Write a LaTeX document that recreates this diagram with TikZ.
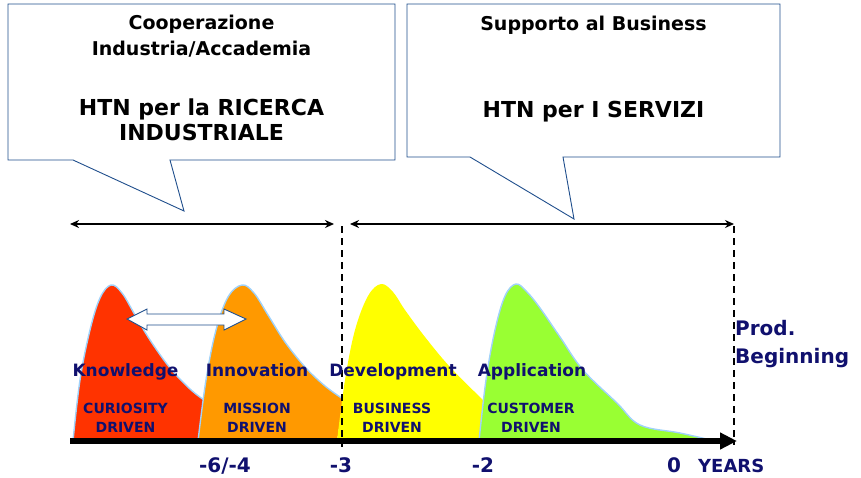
\documentclass[tikz,border=0pt]{standalone}
\usepackage{fontspec}
\setmainfont{DejaVu Sans}
\usetikzlibrary{arrows.meta}
\definecolor{navy}{RGB}{16,16,110}
\definecolor{boxblue}{RGB}{31,78,140}
\definecolor{cred}{RGB}{255,51,0}
\definecolor{corange}{RGB}{255,153,0}
\definecolor{cyellow}{RGB}{255,255,0}
\definecolor{cgreen}{RGB}{153,255,51}
\definecolor{edgeblue}{RGB}{160,210,250}
\tikzset{
  fs/.style={font=\bfseries\fontsize{#1}{#1}\selectfont},
  boxtxt/.style={fs=#1, text=black, anchor=base, inner sep=0pt},
  lab/.style={fs=17, text=navy, anchor=base, inner sep=0pt},
  sublab/.style={fs=14, text=navy, anchor=base, inner sep=0pt},
  num/.style={fs=20, text=navy, anchor=base, inner sep=0pt},
  callout/.style={draw=boxblue, line width=0.9pt, fill=white},
  pulse/.style={fill=#1, draw=edgeblue, line width=1.4pt},
  span/.style={line width=1.8pt, {Stealth[length=9pt,width=8pt]}-{Stealth[length=9pt,width=8pt]}},
  vdash/.style={line width=1.8pt, dash pattern=on 7pt off 5pt}
}
\begin{document}
\begin{tikzpicture}[x=1pt,y=-1pt]
\useasboundingbox (0,0) rectangle (861,477);

% callouts
\draw[callout] (8,4) -- (395,4) -- (395,160) -- (170,160) -- (184,211) -- (73,160) -- (8,160) -- cycle;
\draw[callout] (407,4) -- (780,4) -- (780,157) -- (563,157) -- (574,219) -- (470,157) -- (407,157) -- cycle;

\node[boxtxt=19] (coop) at (201.5,29) {Cooperazione};
\node[boxtxt=19] (indacc) at (201.5,55) {Industria/Accademia};
\node[boxtxt=22] (htn1) at (201.5,115) {HTN per la RICERCA};
\node[boxtxt=22] (indus) at (201.5,140) {INDUSTRIALE};
\node[boxtxt=19] (supp) at (593.5,30) {Supporto al Business};
\node[boxtxt=22] (htn2) at (593.5,117) {HTN per I SERVIZI};

% span arrows
\coordinate (s1a) at (70,224);
\coordinate (s1b) at (334,224);
\coordinate (s2a) at (350,224);
\coordinate (s2b) at (734,224);
\draw[span] (s1a) -- (s1b);
\draw[span] (s2a) -- (s2b);

% pulses
\fill[cred] plot[smooth, tension=0.6] coordinates {(73,441) (80,380) (90,330) (100,298) (111,285) (122,293) (135,315) (150,340) (170,368) (190,389) (204,400)} -- (198,441) -- cycle;
\draw[edgeblue, line width=1.4pt] plot[smooth, tension=0.6] coordinates {(73,441) (80,380) (90,330) (100,298) (111,285) (122,293) (135,315) (150,340) (170,368) (190,389) (204,400)};

\fill[corange] plot[smooth, tension=0.6] coordinates {(198,441) (206,380) (216,330) (228,297) (242,285) (254,293) (268,315) (285,342) (305,367) (325,386) (343,399)} -- (337,441) -- cycle;
\draw[edgeblue, line width=1.4pt] plot[smooth, tension=0.6] coordinates {(198,441) (206,380) (216,330) (228,297) (242,285) (254,293) (268,315) (285,342) (305,367) (325,386) (343,399)};

\fill[cyellow] plot[smooth, tension=0.6] coordinates {(337,441) (345,380) (355,330) (368,296) (381,284) (393,292) (405,310) (425,337) (450,367) (483,400)} -- (479,441) -- cycle;

\fill[cgreen] plot[smooth, tension=0.6] coordinates {(479,441) (486,380) (495,330) (505,296) (516,284) (527,292) (540,308) (560,337) (583,370) (617,403) (640,425) (680,433) (715,441)} -- cycle;
\draw[edgeblue, line width=1.4pt] plot[smooth, tension=0.6] coordinates {(479,441) (486,380) (495,330) (505,296) (516,284) (527,292) (540,308) (560,337) (583,370) (617,403) (640,425) (680,433) (715,441)};

% hollow double arrow
\draw[boxblue, line width=0.9pt, fill=white] (127,319) -- (147,309) -- (147,314) -- (224,314) -- (224,309) -- (246,319) -- (224,330) -- (224,325) -- (147,325) -- (147,330) -- cycle;

% dashed lines
\coordinate (d1t) at (342,226);
\coordinate (d1b) at (342,447);
\coordinate (d2t) at (734,226);
\coordinate (d2b) at (734,445);
\draw[vdash] (d1t) -- (d1b);
\draw[vdash] (d2t) -- (d2b);

% axis
\coordinate (ax0) at (70,441);
\coordinate (ax1) at (737,441);
\draw[line width=6pt, -{Triangle[length=17pt,width=16pt]}] (ax0) -- (ax1);

% labels
\node[lab] (know) at (125.5,376) {Knowledge};
\node[lab] (innov) at (257,376) {Innovation};
\node[lab] (devel) at (393,376) {Development};
\node[lab] (appl) at (532,376) {Application};
\node[sublab] (cur) at (125.5,413) {CURIOSITY};
\node[sublab] (drv1) at (125.5,432) {DRIVEN};
\node[sublab] (miss) at (257,413) {MISSION};
\node[sublab] (drv2) at (257,432) {DRIVEN};
\node[sublab] (bus) at (392,413) {BUSINESS};
\node[sublab] (drv3) at (392,432) {DRIVEN};
\node[sublab] (cust) at (531,413) {CUSTOMER};
\node[sublab] (drv4) at (531,432) {DRIVEN};
\node[fs=20, text=navy, anchor=base west, inner sep=0pt] (prod) at (735,335) {Prod.};
\node[fs=20, text=navy, anchor=base west, inner sep=0pt] (begin) at (735,363) {Beginning};

\node[num] (n64) at (225,472) {-6/-4};
\node[num] (n3) at (341,472) {-3};
\node[num] (n2) at (483,472) {-2};
\node[num] (n0) at (674,472) {0};
\node[fs=18, text=navy, anchor=base west, inner sep=0pt] (years) at (698,472) {YEARS};
\end{tikzpicture}
\end{document}
